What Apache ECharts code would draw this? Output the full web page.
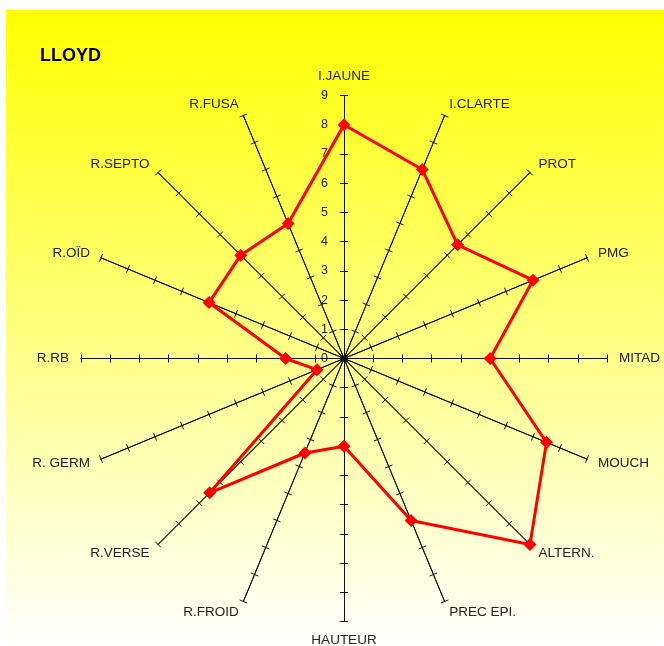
<!DOCTYPE html>
<html>
<head>
<meta charset="utf-8">
<script src="https://cdn.jsdelivr.net/npm/echarts@6/dist/echarts.min.js"></script>
<style>
html,body{margin:0;padding:0;background:#fff;}
#chart{width:664px;height:646px;}
</style>
</head>
<body>
<div id="chart"></div>
<script>
// Categories in clockwise order starting from the top
const categories = ['I.JAUNE','I.CLARTE','PROT','PMG','MITAD','MOUCH','ALTERN.','PREC EPI.','HAUTEUR','R.FROID','R.VERSE','R. GERM','R.RB','R.OÏD','R.SEPTO','R.FUSA'];
const values = [8, 7, 5.5, 7, 5, 7.5, 9, 6, 3, 3.5, 6.5, 1, 2, 5, 5, 5];
const axisMin = 0;
const axisMax = 9;
const tickCount = 9;
const chartTitle = 'LLOYD';

// ECharts radar goes counter-clockwise; reorder so first stays on top and the rest run clockwise
const order = [0].concat(categories.slice(1).map((_, i) => categories.length - 1 - i));
const font = "'Liberation Sans', Arial, sans-serif";

function indicators(withLabel) {
  return order.map((idx, k) => {
    const ind = { name: categories[idx], min: axisMin, max: axisMax };
    if (withLabel && k === 0) ind.axisLabel = { show: true };
    return ind;
  });
}

const baseRadar = {
  center: [344, 358.5],
  radius: 263,
  startAngle: 90,
  splitNumber: tickCount,
  shape: 'polygon',
  splitLine: { show: false },
  splitArea: { show: false },
  axisLine: { show: true, lineStyle: { color: '#111', width: 1 } },
  axisNameGap: 12
};

const chart = echarts.init(document.getElementById('chart'), null, { renderer: 'canvas' });
chart.setOption({
  backgroundColor: '#ffffff',
  animation: false,
  graphic: [{
    type: 'rect',
    z: -10,
    shape: { x: 6, y: 10, width: 658, height: 636 },
    style: {
      fill: new echarts.graphic.LinearGradient(0, 0, 0, 1, [
        { offset: 0, color: '#ffff00' },
        { offset: 1, color: '#ffffff' }
      ])
    },
    silent: true
  }],
  title: {
    text: chartTitle,
    left: 35,
    top: 42,
    textStyle: { fontFamily: font, fontSize: 18, fontWeight: 'bold', color: '#000' }
  },
  radar: [
    Object.assign({}, baseRadar, {
      indicator: indicators(true),
      axisTick: { show: true, length: 4, lineStyle: { color: '#111' } },
      axisLabel: { show: false, fontFamily: font, fontSize: 12.5, color: '#222', margin: 16 },
      axisName: { show: true, fontFamily: font, fontSize: 13.5, color: '#222' }
    }),
    Object.assign({}, baseRadar, {
      indicator: indicators(false),
      axisTick: { show: true, length: -4, lineStyle: { color: '#111' } },
      axisLabel: { show: false },
      axisName: { show: false }
    })
  ],
  series: [{
    type: 'radar',
    radarIndex: 0,
    symbol: 'diamond',
    symbolSize: 13,
    lineStyle: { color: '#ff0000', width: 3 },
    itemStyle: { color: '#ff0000' },
    z: 5,
    data: [{ value: order.map(i => values[i]), name: chartTitle }]
  }]
});
</script>
</body>
</html>
